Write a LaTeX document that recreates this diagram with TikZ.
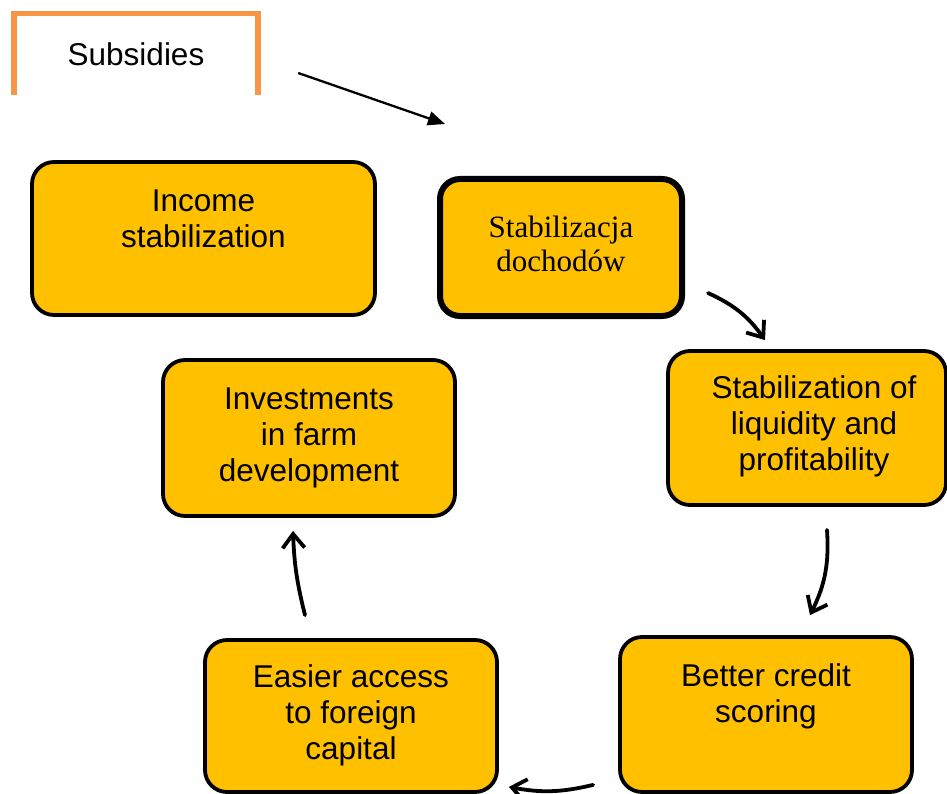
\documentclass[tikz,border=0pt]{standalone}
\usepackage{fontspec}
\setmainfont{Liberation Sans}
\newfontfamily\polishserif{Liberation Serif}
\usetikzlibrary{arrows.meta,calc}

\definecolor{cardfill}{HTML}{FFC000}
\definecolor{subsorange}{HTML}{F79646}

% text block of a card: width, height, gap above the first line, extra left skip, lines
\newcommand{\cardtext}[5]{%
  \parbox[c][#2][t]{#1}{\centering\leftskip=#4 plus 1fil\relax
    \vspace*{#3}\strut #5\par}}

\begin{document}
\begin{tikzpicture}[x=1pt,y=-1pt,
  card/.style={draw=black, line width=3.8pt, fill=cardfill,
    rounded corners=22pt, inner sep=0pt,
    font=\fontsize{31.5}{36.3}\selectfont},
  polishcard/.style={card, line width=6pt, rounded corners=20pt,
    font=\polishserif\fontsize{31}{34}\selectfont},
  flow/.style={line width=3.8pt, line cap=round,
    -{Straight Barb[length=14pt,width=22pt,line width=3.8pt]}},
  feed/.style={line width=2.3pt, -{Triangle[length=17pt,width=14pt]}},
  bracket/.style={draw=subsorange, line width=5.5pt}
]
\useasboundingbox (0,0) rectangle (947,794);

% source of the subsidies, framed on three sides
\node[inner sep=0pt, minimum width=244pt, minimum height=81pt,
      font=\fontsize{31.5}{36.3}\selectfont] (subs) at (136,54) {Subsidies};
\draw[bracket] (subs.south west) |- (subs.north) -| (subs.south east);
\coordinate (subsin) at (445,124);
\draw[feed] ([shift={(40,19)}]subs.east) -- (subsin);

% cards of the cycle
\node[card] (income) at (203.5,238.5)
  {\cardtext{343pt}{153pt}{23.8pt}{0pt}{Income\\stabilization}};
\node[polishcard] (stab) at (561,247.5)
  {\cardtext{242pt}{137pt}{35.2pt}{0pt}{Stabilizacja\\dochodów}};
\node[card] (liq) at (807,428)
  {\cardtext{278pt}{154pt}{21.8pt}{14pt}{Stabilization of\\liquidity and\\profitability}};
\node[card] (credit) at (766,714.5)
  {\cardtext{292pt}{155pt}{23.8pt}{0pt}{Better credit\\scoring}};
\node[card] (easy) at (351,716)
  {\cardtext{292pt}{152pt}{21.8pt}{0pt}{Easier access\\to foreign\\capital}};
\node[card] (inv) at (309,438)
  {\cardtext{292pt}{156pt}{23.8pt}{0pt}{Investments\\in farm\\development}};

% hand-drawn connectors of the cycle
\draw[flow] ([shift={(23,-26)}]stab.south east) to[bend left=15] ([shift={(-42,-9)}]liq.north);
\draw[flow] ([shift={(20,23)}]liq.south) to[bend left=15] ([shift={(44,-20)}]credit.north);
\draw[flow] ([shift={(-25,-9)}]credit.south west) to[bend left=12] ([shift={(10,-7)}]easy.south east);
\draw[flow] ([shift={(-46,-23)}]easy.north) to[bend left=6] ([shift={(-16,13)}]inv.south);
\end{tikzpicture}
\end{document}
